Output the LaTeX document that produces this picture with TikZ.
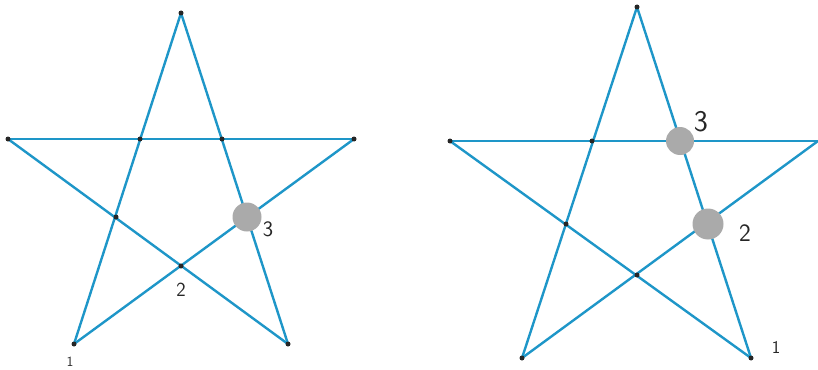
\documentclass[tikz,border=0pt]{standalone}
\usepackage{tikz}
\definecolor{starblue}{RGB}{30,150,200}
\definecolor{dotgrey}{RGB}{170,170,170}
\tikzset{
  edge/.style={draw=starblue, line width=2.4pt},
  pt/.style={circle, fill=black!85, inner sep=0pt, minimum size=5pt},
  bigpt/.style={circle, fill=dotgrey, inner sep=0pt, minimum size=29pt},
  lab/.style={font=\sffamily, text=black!85, inner sep=0pt}
}
\begin{document}
\begin{tikzpicture}[x=1pt,y=-1pt]
\useasboundingbox (0,0) rectangle (818,369);
% left star
\coordinate (aT) at (181,13);
\coordinate (aL) at (8,139);
\coordinate (aR) at (354,139);
\coordinate (aBL) at (74,344);
\coordinate (aBR) at (288,344);
\draw[edge] (aT) -- (aBL);
\draw[edge] (aT) -- (aBR);
\draw[edge] (aL) -- (aR);
\draw[edge] (aL) -- (aBR);
\draw[edge] (aR) -- (aBL);
\foreach \p in {aT,aL,aR,aBL,aBR} \node[pt] at (\p) {};
\node[pt] (a1) at (140,139) {};
\node[pt] (a2) at (222,139) {};
\node[pt] (a3) at (116,217) {};
\node[pt] (a4) at (181,266) {};
\node[bigpt] (a5) at (247,217) {};
\node[lab, font=\sffamily\fontsize{22}{22}\selectfont] (a5l) at (268,229) {3};
\node[lab, font=\sffamily\fontsize{20}{20}\selectfont] (a4l) at (181,290) {2};
\node[lab, font=\sffamily\fontsize{14}{14}\selectfont] (a1l) at (70,362) {1};
% right star
\coordinate (bT) at (637,7);
\coordinate (bL) at (450,141);
\coordinate (bR) at (818,141);
\coordinate (bBL) at (522,358);
\coordinate (bBR) at (751,358);
\draw[edge] (bT) -- (bBL);
\draw[edge] (bT) -- (bBR);
\draw[edge] (bL) -- (bR);
\draw[edge] (bL) -- (bBR);
\draw[edge] (bR) -- (bBL);
\foreach \p in {bT,bL,bBL,bBR} \node[pt] at (\p) {};
\node[pt] (b1) at (592,141) {};
\node[pt] (b3) at (566,224) {};
\node[pt] (b4) at (637,275) {};
\node[bigpt, minimum size=28pt] (b2) at (680,141) {};
\node[bigpt, minimum size=31pt] (b5) at (708,224) {};
\node[lab, font=\sffamily\fontsize{30}{30}\selectfont] (b2l) at (701,122) {3};
\node[lab, font=\sffamily\fontsize{25}{25}\selectfont] (b5l) at (745,233) {2};
\node[lab, font=\sffamily\fontsize{18}{18}\selectfont] (bBRl) at (776,347) {1};
\end{tikzpicture}
\end{document}
